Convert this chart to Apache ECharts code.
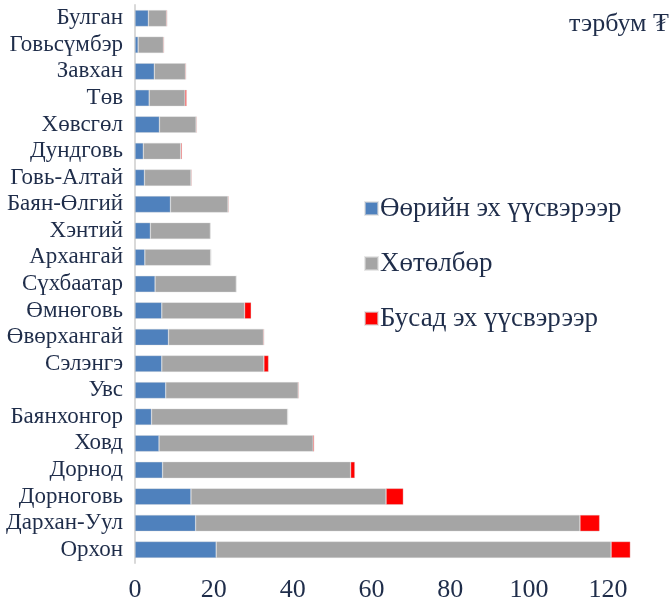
<!DOCTYPE html>
<html>
<head>
<meta charset="utf-8">
<script src="https://cdn.jsdelivr.net/npm/echarts@6/dist/echarts.min.js"></script>
<style>
  html, body { margin: 0; padding: 0; background: #fff; }
  #main { width: 671px; height: 603px; }
</style>
</head>
<body>
<div id="main"></div>
<script>
// аймгууд, дээрээс доош
var aimags = ['Булган', 'Говьсүмбэр', 'Завхан', 'Төв', 'Хөвсгөл', 'Дундговь', 'Говь-Алтай',
  'Баян-Өлгий', 'Хэнтий', 'Архангай', 'Сүхбаатар', 'Өмнөговь', 'Өвөрхангай', 'Сэлэнгэ',
  'Увс', 'Баянхонгор', 'Ховд', 'Дорнод', 'Дорноговь', 'Дархан-Уул', 'Орхон'];
// Өөрийн эх үүсвэрээр
var ownSource = [3.4, 0.8, 4.9, 3.6, 6.2, 2.1, 2.4, 9.0, 3.9, 2.5, 5.1, 6.8, 8.5, 6.8,
  7.8, 4.2, 6.1, 7.0, 14.2, 15.4, 20.6];
// Хөтөлбөр
var program = [4.6, 6.4, 7.9, 9.1, 9.3, 9.5, 11.8, 14.6, 15.2, 16.7, 20.6, 21.0, 24.1, 25.9,
  33.6, 34.5, 39.1, 47.7, 49.5, 97.5, 100.2];
// Бусад эх үүсвэрээр
var otherSource = [0.2, 0.2, 0.2, 0.4, 0.2, 0.3, 0.2, 0.2, 0.1, 0.1, 0, 1.7, 0.2, 1.2,
  0.2, 0.1, 0.3, 1.1, 4.4, 5.0, 4.9];
var xTicks = [0, 20, 40, 60, 80, 100, 120];

var chart = echarts.init(document.getElementById('main'), null, { renderer: 'canvas' });
var serif = '"Liberation Serif", "DejaVu Serif", serif';
var textColor = '#1f2d4a';

function barSeries(name, data, color) {
  return {
    name: name,
    type: 'bar',
    stack: 'total',
    barWidth: '62%',
    itemStyle: { color: color, borderColor: 'rgba(217,217,217,0.6)', borderWidth: 0.6 },
    data: data
  };
}

var option = {
  animation: false,
  textStyle: { fontFamily: serif },
  // картын баруун хэсэг тасарсан тул max-ыг 136 болгов
  grid: { left: 135, right: 0, top: 5, bottom: 40 },
  legend: {
    orient: 'vertical',
    left: 359,
    top: 190,
    itemWidth: 13,
    itemHeight: 13,
    itemGap: 28,
    icon: 'rect',
    textStyle: { fontFamily: serif, fontSize: 27, color: textColor, padding: [0, 0, 0, -3] },
    data: ['Өөрийн эх үүсвэрээр', 'Хөтөлбөр', 'Бусад эх үүсвэрээр']
  },
  graphic: [{
    type: 'text',
    left: 569,
    top: 11,
    style: { text: 'тэрбум ₮', font: '26px ' + serif, fill: textColor }
  }],
  xAxis: {
    type: 'value',
    min: xTicks[0],
    max: 136,
    interval: 20,
    axisLine: { show: false },
    axisTick: { show: false },
    splitLine: { show: false },
    axisLabel: {
      fontSize: 26,
      color: textColor,
      fontFamily: serif,
      margin: 14,
      showMaxLabel: false,
      formatter: function (v) { return xTicks.indexOf(v) >= 0 ? String(v) : ''; }
    }
  },
  yAxis: {
    type: 'category',
    inverse: true,
    data: aimags,
    axisLine: { show: true, lineStyle: { color: '#d9d9d9', width: 2 } },
    axisTick: { show: false },
    axisLabel: { interval: 0, fontSize: 23, color: textColor, fontFamily: serif, margin: 12 }
  },
  series: [
    barSeries('Өөрийн эх үүсвэрээр', ownSource, '#4f81bd'),
    barSeries('Хөтөлбөр', program, '#a5a5a5'),
    barSeries('Бусад эх үүсвэрээр', otherSource, '#ff0000')
  ]
};

chart.setOption(option);
</script>
</body>
</html>
